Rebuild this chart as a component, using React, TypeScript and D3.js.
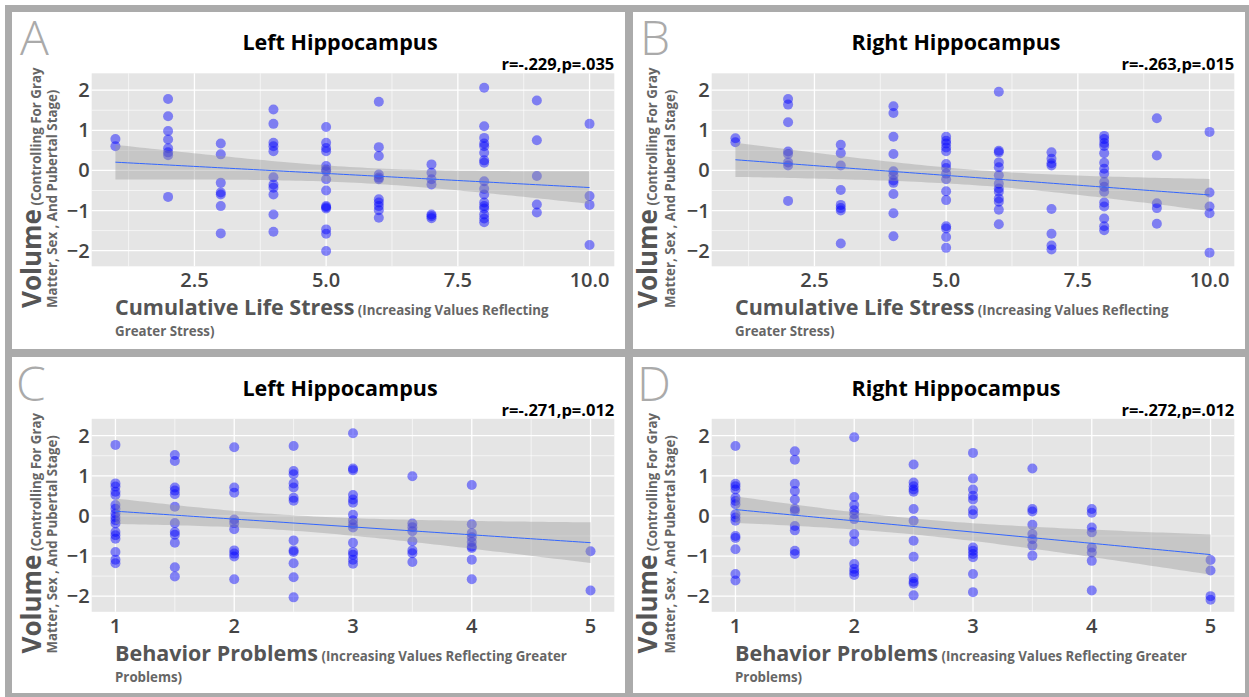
import React, { useEffect, useRef } from "react";
import * as d3 from "d3";

// x levels
const stressLevels = [1, 2, 3, 4, 5, 6, 7, 8, 9, 10];
const behaviorLevels = [1, 1.5, 2, 2.5, 3, 3.5, 4, 5];

// volume residuals, one list per x level
const leftByStress = [
  [0.78, 0.6],
  [1.78, 1.35, 0.98, 0.77, 0.55, 0.45, 0.38, -0.66],
  [0.67, 0.4, -0.31, -0.55, -0.6, -0.89, -1.57],
  [1.52, 1.16, 0.69, 0.6, 0.48, -0.17, -0.35, -0.43, -0.6, -1.1, -1.53],
  [1.08, 0.69, 0.56, 0.48, 0.11, 0.02, -0.02, -0.22, -0.5, -0.89, -0.92, -0.95, -1.47, -1.58, -2.01],
  [1.71, 0.58, 0.36, -0.1, -0.18, -0.22, -0.72, -0.8, -0.89, -0.99, -1.18],
  [0.15, -0.06, -0.22, -0.35, -1.1, -1.14, -1.19],
  [2.06, 1.1, 0.81, 0.67, 0.6, 0.44, 0.25, 0.19, -0.27, -0.46, -0.6, -0.8, -0.89, -0.95, -1.1, -1.2, -1.29],
  [1.74, 0.75, -0.14, -0.85, -1.05],
  [1.16, -0.64, -0.86, -1.86],
];

const rightByStress = [
  [0.8, 0.7],
  [1.78, 1.64, 1.2, 0.47, 0.41, 0.2, 0.12, -0.76],
  [0.64, 0.43, 0.12, -0.49, -0.86, -0.94, -1.0, -1.82],
  [1.6, 1.43, 0.84, 0.41, -0.02, -0.12, -0.25, -0.31, -0.59, -1.07, -1.64],
  [0.84, 0.74, 0.67, 0.57, 0.48, 0.16, 0.06, -0.08, -0.22, -0.52, -0.74, -1.39, -1.45, -1.66, -1.93],
  [1.96, 0.49, 0.45, 0.2, 0.08, -0.12, -0.33, -0.45, -0.53, -0.7, -0.78, -0.98, -1.34],
  [0.45, 0.29, 0.18, 0.12, -0.96, -1.58, -1.87, -1.97],
  [0.86, 0.78, 0.68, 0.61, 0.43, 0.19, 0.04, -0.08, -0.29, -0.41, -0.53, -0.8, -0.9, -1.2, -1.39, -1.49],
  [1.3, 0.37, -0.82, -0.94, -1.33],
  [0.96, -0.55, -0.9, -1.07, -2.05],
];

const leftByBehavior = [
  [1.77, 0.81, 0.73, 0.6, 0.52, 0.27, 0.18, 0.06, -0.03, -0.11, -0.19, -0.4, -0.48, -0.57, -0.9, -1.09, -1.18],
  [1.52, 1.37, 0.71, 0.63, 0.54, 0.23, -0.18, -0.4, -0.47, -0.67, -1.28, -1.51],
  [1.71, 0.71, 0.58, -0.09, -0.18, -0.33, -0.86, -0.94, -1.01, -1.58],
  [1.74, 1.12, 1.04, 0.81, 0.71, 0.45, 0.38, -0.61, -0.86, -0.9, -1.18, -1.53, -2.03],
  [2.06, 1.18, 1.14, 0.52, 0.41, 0.33, 0.03, -0.11, -0.21, -0.29, -0.67, -0.9, -0.97, -1.09, -1.19],
  [0.99, -0.19, -0.28, -0.38, -0.63, -0.86, -0.93, -1.15],
  [0.77, -0.21, -0.43, -0.53, -0.65, -0.76, -0.8, -1.09, -1.58],
  [-0.88, -1.86],
];

const rightByBehavior = [
  [1.74, 0.8, 0.74, 0.66, 0.45, 0.37, 0.29, 0.04, -0.04, -0.12, -0.5, -0.55, -0.83, -1.45, -1.61],
  [1.61, 1.4, 0.8, 0.62, 0.41, 0.18, 0.12, -0.25, -0.36, -0.87, -0.95],
  [1.96, 0.47, 0.27, 0.14, 0.04, -0.08, -0.45, -0.64, -1.2, -1.32, -1.4, -1.47],
  [1.28, 0.83, 0.74, 0.66, 0.6, 0.17, -0.12, -0.62, -1.02, -1.55, -1.64, -1.69, -1.98],
  [1.57, 0.93, 0.66, 0.5, 0.41, 0.14, 0.04, -0.79, -0.87, -0.95, -1.03, -1.45, -1.9],
  [1.18, 0.17, 0.11, -0.22, -0.45, -0.58, -0.74, -0.99],
  [0.17, 0.08, -0.29, -0.41, -0.79, -0.91, -1.12, -1.86],
  [-1.1, -1.36, -2.0, -2.09],
];

const stressTicks = [2.5, 5, 7.5, 10];
const stressMinor = [1.25, 3.75, 6.25, 8.75];
const behaviorTicks = [1, 2, 3, 4, 5];
const behaviorMinor = [1.5, 2.5, 3.5, 4.5];
const yTicks = [-2, -1, 0, 1, 2];
const yMinor = [-1.5, -0.5, 0.5, 1.5];

const letters = ["A", "B", "C", "D"];
const titles = ["Left Hippocampus", "Right Hippocampus", "Left Hippocampus", "Right Hippocampus"];
const stats = ["r=-.229,p=.035", "r=-.263,p=.015", "r=-.271,p=.012", "r=-.272,p=.012"];

const W = 1249, H = 697;

// flatten grouped lists into [x, y] points
function toPoints(levels, groups) {
  const pts = [];
  groups.forEach((g, i) => g.forEach(v => pts.push([levels[i], v])));
  return pts;
}

// linear fit with 95% confidence band (like geom_smooth(method = "lm"))
function fitBand(pts) {
  const n = pts.length;
  const mx = d3.mean(pts, d => d[0]);
  const my = d3.mean(pts, d => d[1]);
  const sxx = d3.sum(pts, d => (d[0] - mx) ** 2);
  const sxy = d3.sum(pts, d => (d[0] - mx) * (d[1] - my));
  const b = sxy / sxx, a = my - b * mx;
  const s = Math.sqrt(d3.sum(pts, d => (d[1] - a - b * d[0]) ** 2) / (n - 2));
  const [x0, x1] = d3.extent(pts, d => d[0]);
  return d3.range(80).map(i => {
    const x = x0 + (x1 - x0) * i / 79;
    const yh = a + b * x;
    const se = s * Math.sqrt(1 / n + (x - mx) ** 2 / sxx);
    return { x, y: yh, lo: yh - 1.99 * se, hi: yh + 1.99 * se };
  });
}

export default function App() {
  const ref = useRef(null);

  useEffect(() => {
    const svg = d3.select(ref.current);
    svg.selectAll("*").remove();

    svg.append("rect").attr("width", W).attr("height", H).attr("fill", "#fff");
    svg.append("rect").attr("x", 5).attr("y", 5).attr("width", W - 5).attr("height", H - 5).attr("fill", "#ababab");

    const panels = [
      { ox: 0, oy: 0, box: [12, 12, 613, 337], pts: toPoints(stressLevels, leftByStress), stress: true,
        titleX: 340, yT1: 41, yT2: 57, letterX: 20 },
      { ox: 620, oy: 0, box: [633, 12, 612, 337], pts: toPoints(stressLevels, rightByStress), stress: true,
        titleX: 336, yT1: 37, yT2: 55, letterX: 20 },
      { ox: 0, oy: 345.5, box: [12, 357, 613, 336], pts: toPoints(behaviorLevels, leftByBehavior), stress: false,
        titleX: 340, yT1: 41, yT2: 57, letterX: 16 },
      { ox: 620, oy: 345.5, box: [633, 357, 612, 336], pts: toPoints(behaviorLevels, rightByBehavior), stress: false,
        titleX: 336, yT1: 37, yT2: 55, letterX: 17 },
    ];

    const font = "'Open Sans', 'Noto Sans', sans-serif";

    panels.forEach((p, i) => {
      svg.append("rect")
        .attr("x", p.box[0]).attr("y", p.box[1])
        .attr("width", p.box[2]).attr("height", p.box[3])
        .attr("fill", "#fff");

      const g = svg.append("g").attr("transform", "translate(" + p.ox + "," + p.oy + ")")
        .style("font-family", font);

      const left = 91.7, right = 614.3, top = 73.3, bottom = 266.3;
      const x = d3.scaleLinear()
        .domain(p.stress ? [0.55, 10.47] : [0.8, 5.2])
        .range([left, right]);
      const y = d3.scaleLinear().domain([-2.39, 2.42]).range([bottom, top]);

      // letter
      g.append("text").attr("x", p.letterX).attr("y", 55)
        .attr("font-size", 48).attr("font-weight", 300).attr("fill", "#aaaaaa")
        .text(letters[i]);

      // title + stat
      g.append("text").attr("x", p.titleX).attr("y", 50).attr("text-anchor", "middle")
        .attr("font-size", 21.5).attr("font-weight", 700).attr("fill", "#000")
        .text(titles[i]);
      g.append("text").attr("x", right).attr("y", 70).attr("text-anchor", "end")
        .attr("font-size", 16.5).attr("font-weight", 700).attr("fill", "#000")
        .text(stats[i]);

      // plot background and grid
      g.append("rect").attr("x", left).attr("y", top)
        .attr("width", right - left).attr("height", bottom - top).attr("fill", "#e5e5e5");

      const xMinor = p.stress ? stressMinor : behaviorMinor;
      const xTicks = p.stress ? stressTicks : behaviorTicks;

      g.selectAll(".xmin").data(xMinor).enter().append("line")
        .attr("x1", d => x(d)).attr("x2", d => x(d)).attr("y1", top).attr("y2", bottom)
        .attr("stroke", "#fff").attr("stroke-width", 0.6);
      g.selectAll(".ymin").data(yMinor).enter().append("line")
        .attr("x1", left).attr("x2", right).attr("y1", d => y(d)).attr("y2", d => y(d))
        .attr("stroke", "#fff").attr("stroke-width", 0.6);
      g.selectAll(".xmaj").data(xTicks).enter().append("line")
        .attr("x1", d => x(d)).attr("x2", d => x(d)).attr("y1", top).attr("y2", bottom)
        .attr("stroke", "#fff").attr("stroke-width", 1.3);
      g.selectAll(".ymaj").data(yTicks).enter().append("line")
        .attr("x1", left).attr("x2", right).attr("y1", d => y(d)).attr("y2", d => y(d))
        .attr("stroke", "#fff").attr("stroke-width", 1.3);

      // points
      g.selectAll(".pt").data(p.pts).enter().append("circle")
        .attr("cx", d => x(d[0])).attr("cy", d => y(d[1])).attr("r", 5)
        .attr("fill", "#0000ff").attr("fill-opacity", 0.45);

      // fit
      const band = fitBand(p.pts);
      g.append("path").datum(band)
        .attr("d", d3.area().x(d => x(d.x)).y0(d => y(d.lo)).y1(d => y(d.hi)))
        .attr("fill", "#999999").attr("fill-opacity", 0.4);
      g.append("path").datum(band)
        .attr("d", d3.line().x(d => x(d.x)).y(d => y(d.y)))
        .attr("fill", "none").attr("stroke", "#3366ff").attr("stroke-width", 1);

      // tick labels
      const fmt = p.stress ? d3.format(".1f") : d3.format("d");
      g.selectAll(".xl").data(xTicks).enter().append("text")
        .attr("x", d => x(d)).attr("y", 287).attr("text-anchor", "middle")
        .attr("font-size", 20).attr("font-weight", 600).attr("fill", "#444")
        .text(d => fmt(d));
      g.selectAll(".yl").data(yTicks).enter().append("text")
        .attr("x", left - 2).attr("y", d => y(d) + 7).attr("text-anchor", "end")
        .attr("font-size", 20).attr("font-weight", 600).attr("fill", "#444")
        .text(d => d3.format("d")(d));

      // x title
      const xt = g.append("text").attr("x", 115).attr("y", 315).attr("fill", "#555").attr("font-weight", 700);
      xt.append("tspan").attr("font-size", 21.5).text(p.stress ? "Cumulative Life Stress" : "Behavior Problems");
      xt.append("tspan").attr("font-size", 13.3).attr("fill", "#666")
        .text(p.stress ? " (Increasing Values Reflecting" : " (Increasing Values Reflecting Greater");
      g.append("text").attr("x", 115).attr("y", 336).attr("fill", "#666")
        .attr("font-size", 13.3).attr("font-weight", 700)
        .text(p.stress ? "Greater Stress)" : "Problems)");

      // y title (rotated)
      const yt = g.append("text").attr("transform", "translate(" + p.yT1 + ",308) rotate(-90)")
        .attr("fill", "#555").attr("font-weight", 700);
      yt.append("tspan").attr("font-size", 26).text("Volume");
      yt.append("tspan").attr("font-size", 13.3).attr("fill", "#666").text(" (Controlling For Gray");
      g.append("text").attr("transform", "translate(" + p.yT2 + ",308) rotate(-90)")
        .attr("fill", "#666").attr("font-size", 13.3).attr("font-weight", 700)
        .text("Matter, Sex , And Pubertal Stage)");
    });
  }, []);

  return (
    <div style={{ position: "absolute", left: 0, top: 0 }}>
      <svg ref={ref} width={W} height={H} style={{ display: "block" }} />
    </div>
  );
}
